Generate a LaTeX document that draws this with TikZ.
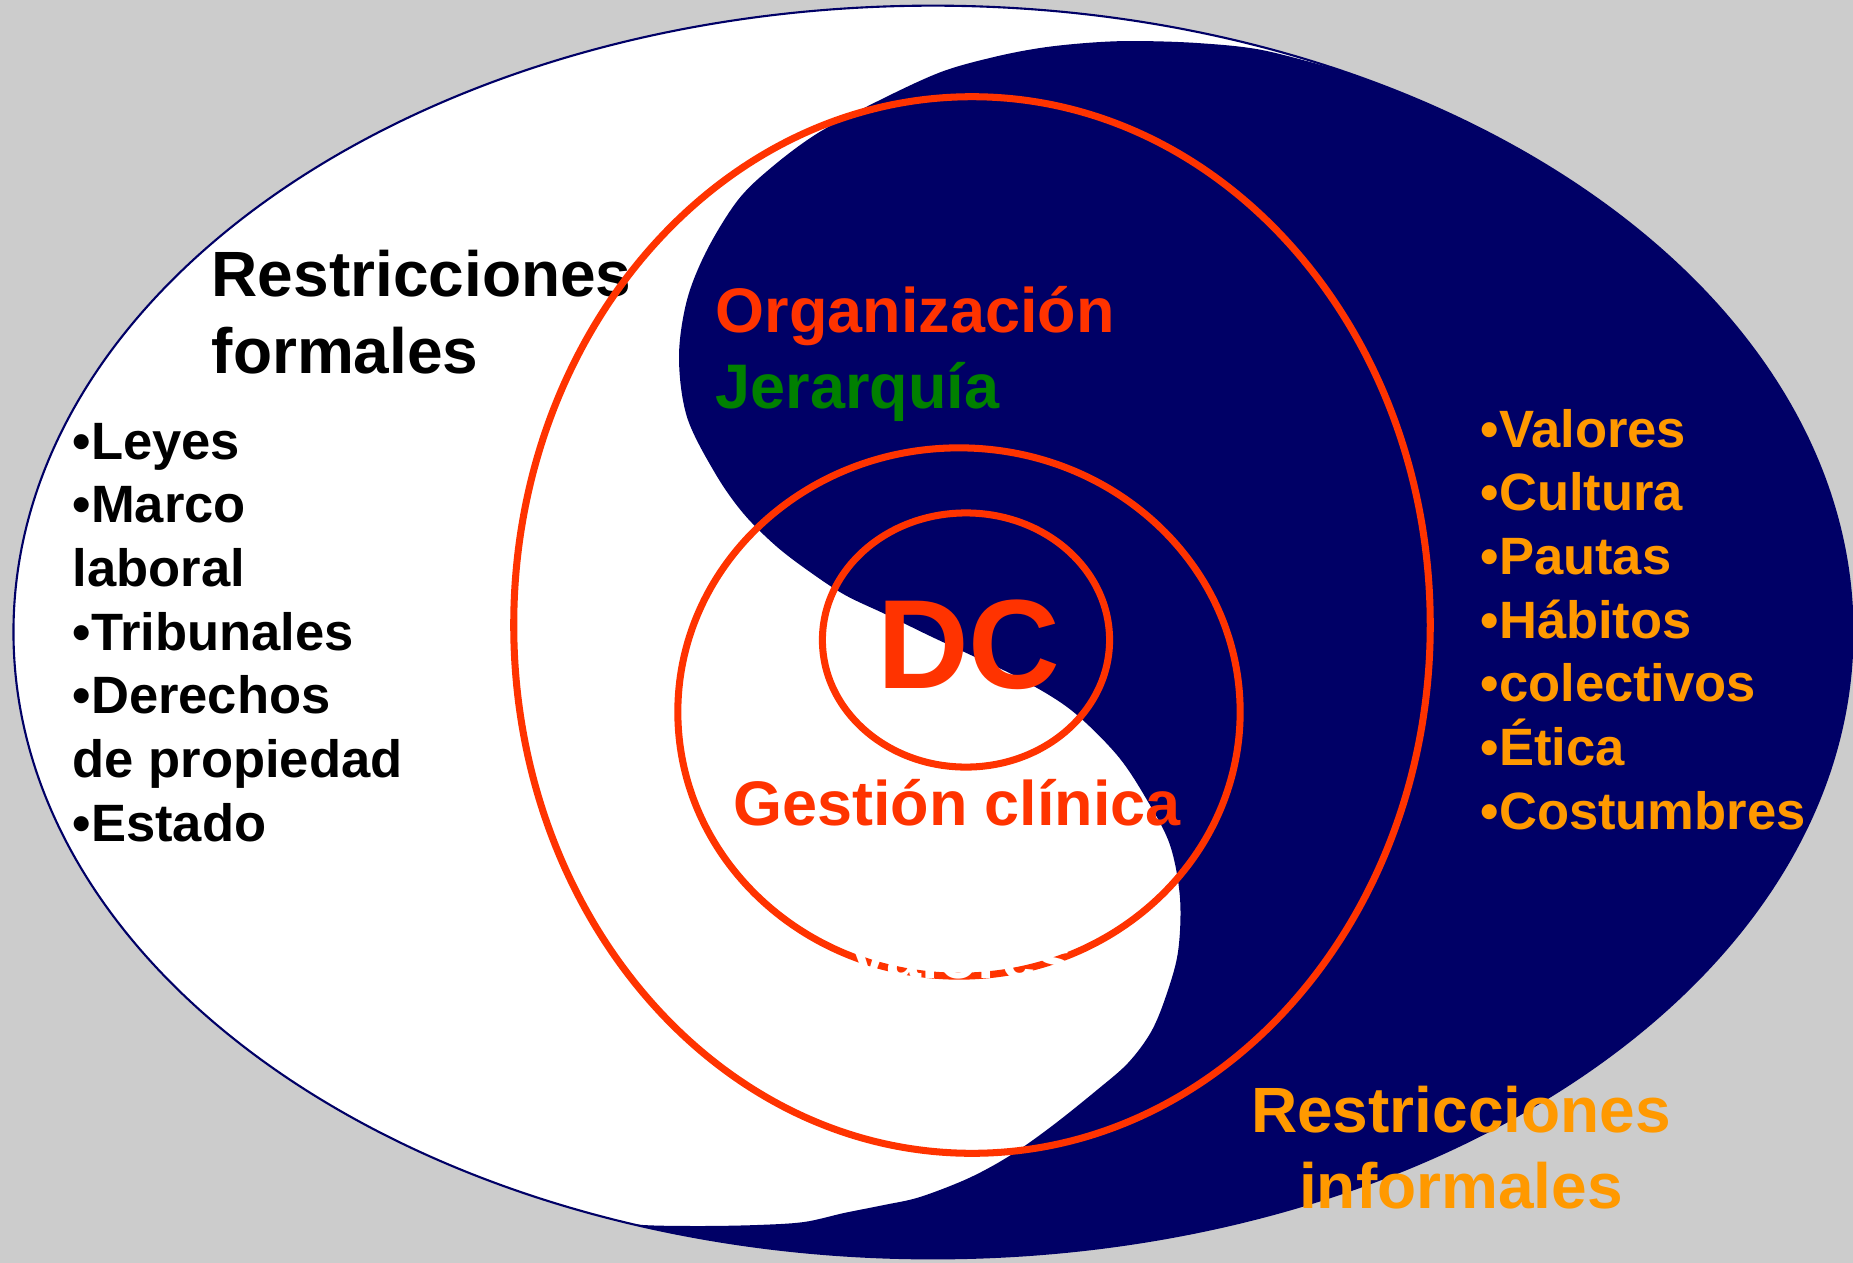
\documentclass[tikz,border=0pt]{standalone}
\usepackage{fontspec}
\setmainfont{Liberation Sans}
\definecolor{navyc}{HTML}{000066}
\definecolor{redc}{HTML}{FF3300}
\definecolor{orangec}{HTML}{FF9900}
\definecolor{greenc}{HTML}{008000}
\definecolor{bggray}{HTML}{CCCCCC}
\tikzset{
  big/.style={inner sep=0pt, font=\fontsize{18.2pt}{21.9pt}\selectfont\bfseries},
  mid/.style={inner sep=0pt, font=\fontsize{17.9pt}{21.6pt}\selectfont\bfseries},
  lst/.style={inner sep=0pt, anchor=base west, font=\fontsize{14.94pt}{18.1pt}\selectfont\bfseries},
  huge/.style={inner sep=0pt, font=\fontsize{36.1pt}{40pt}\selectfont\bfseries},
  redline/.style={draw=redc, line width=2pt},
}
\begin{document}
\begin{tikzpicture}[x=0.01cm,y=-0.01cm]
\useasboundingbox (0,0) rectangle (1853,1263);
\fill[bggray] (0,0) rectangle (1853,1263);
% outer ellipse
\fill[white] (933,632) ellipse [x radius=9.19cm, y radius=6.26cm];
\begin{scope}
\clip (933,632) ellipse [x radius=9.19cm, y radius=6.26cm];
\fill[navyc] plot[smooth, tension=0.55] coordinates {
 (1339,70) (1262,50) (1197,43) (1132,41) (1086,43) (1040,48) (994,57) (941,72)
 (880,100) (818,133) (772,167) (738,200) (707,250) (687,300) (679,357) (687,417)
 (715,473) (743,513) (776,546) (810,572) (845,595) (885,614) (930,636) (975,657)
 (1021,679) (1071,710) (1117,755) (1147,800) (1170,845) (1180,898) (1178,952)
 (1166,996) (1151,1032) (1128,1063) (1097,1090) (1052,1126) (1011,1155) (969,1178)
 (920,1197) (884,1205) (844,1213) (804,1222) (757,1225) (700,1226) (643,1225)
 (603,1220) (560,1215)}
 -- (560,1300) -- (1900,1300) -- (1900,-20) -- (1400,-20) -- cycle;
\end{scope}
\draw[navyc, line width=0.6pt] (933,632) ellipse [x radius=9.19cm, y radius=6.26cm];
% left title (under the red ring)
\node[big, anchor=base west] (rf1) at (211,296) {Restricciones};
\node[big, anchor=base west] (rf2) at (211,373) {formales};
% red rings
\draw[redline] (972,625) ellipse [x radius=4.58cm, y radius=5.28cm];
\draw[redline] (959,712) ellipse [x radius=2.81cm, y radius=2.64cm];
\draw[redline] (966,640) ellipse [x radius=1.435cm, y radius=1.27cm];
% left list
\node[lst] (l1) at (72,459) {•Leyes};
\node[lst] (l2) at (72,522.7) {•Marco};
\node[lst] (l3) at (72,586.4) {laboral};
\node[lst] (l4) at (72,650.1) {•Tribunales};
\node[lst] (l5) at (72,713.8) {•Derechos};
\node[lst] (l6) at (72,777.5) {de propiedad};
\node[lst] (l7) at (72,841.2) {•Estado};
% right list
\node[lst, text=orangec] (r1) at (1480,447) {•Valores};
\node[lst, text=orangec] (r2) at (1480,510.7) {•Cultura};
\node[lst, text=orangec] (r3) at (1480,574.4) {•Pautas};
\node[lst, text=orangec] (r4) at (1480,638.1) {•Hábitos};
\node[lst, text=orangec] (r5) at (1480,701.8) {•colectivos};
\node[lst, text=orangec] (r6) at (1480,765.5) {•Ética};
\node[lst, text=orangec] (r7) at (1480,829.2) {•Costumbres};
% centre texts
\node[mid, anchor=base west, text=redc] (org) at (715,332) {Organización};
\node[mid, anchor=base west, text=greenc] (jer) at (715,408) {Jerarquía};
\node[huge, anchor=base, text=redc] (dc) at (969,688) {DC};
\node[mid, anchor=base, text=redc] (gc) at (957,825) {Gestión clínica};
\node[mid, anchor=base, text=white] (val) at (960,978) {Valores};
% informal
\node[big, anchor=base, text=orangec] (ri1) at (1461,1132) {Restricciones};
\node[big, anchor=base, text=orangec] (ri2) at (1461,1208) {informales};
\end{tikzpicture}
\end{document}
